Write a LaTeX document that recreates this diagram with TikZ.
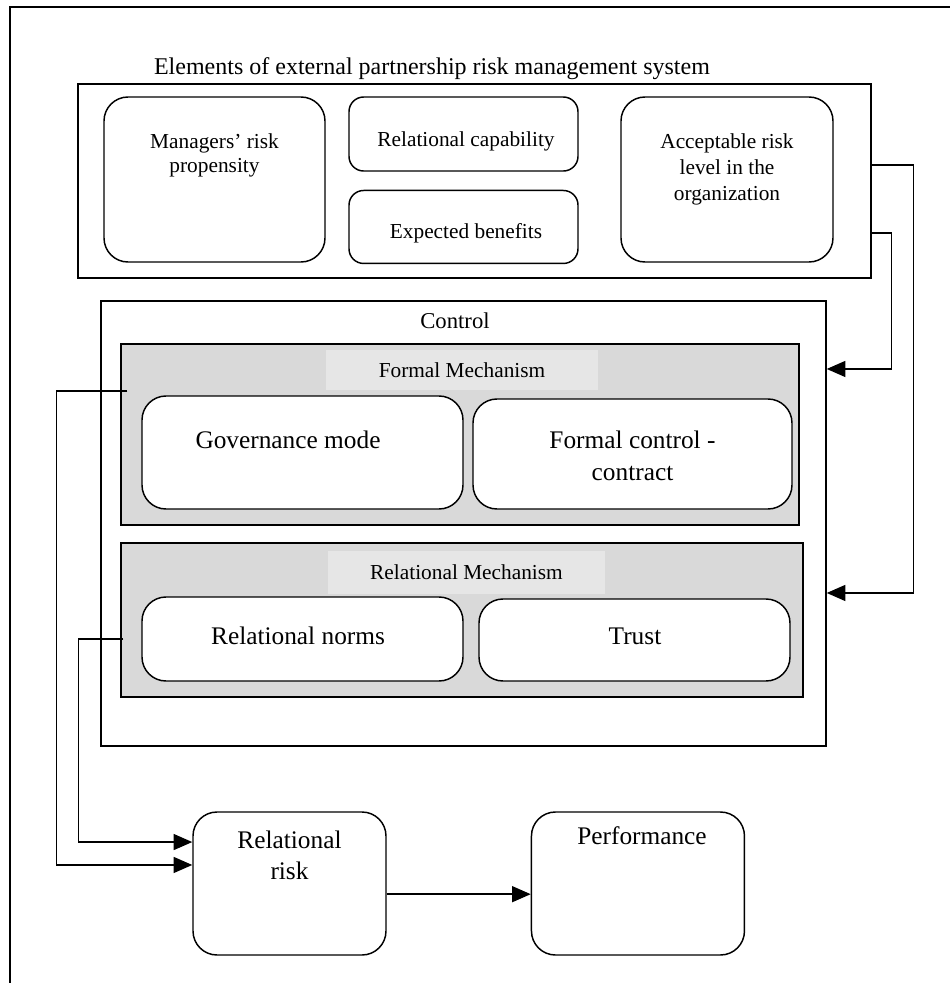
\documentclass[tikz,border=0pt]{standalone}
\usepackage{fontspec}
\setmainfont{Liberation Serif}
\usepackage{tikz}
\usetikzlibrary{positioning}
\usetikzlibrary{arrows.meta}
\definecolor{mechgray}{HTML}{D9D9D9}
\definecolor{labelgray}{HTML}{E6E6E6}
\tikzstyle{outer}=[draw,rectangle,line width=1.1pt,inner sep=0pt]
\tikzstyle{rbox}=[draw,rectangle,rounded corners=18pt,line width=1.1pt,fill=white,inner sep=0pt]
\tikzstyle{sbox}=[rbox,rounded corners=11pt]
\tikzstyle{mech}=[draw,rectangle,line width=1.1pt,fill=mechgray,inner sep=0pt]
\tikzstyle{mechlabel}=[rectangle,fill=labelgray,inner sep=0pt,font=\fontsize{16}{18}\selectfont]
\tikzstyle{txt}=[align=center,inner sep=0pt,font=\fontsize{16}{18}\selectfont]
\tikzstyle{bigtxt}=[align=center,inner sep=0pt,font=\fontsize{19}{24}\selectfont]

\begin{document}
\begin{tikzpicture}
	[x=0.75pt,y=-0.75pt,node distance=12pt]
	\tikzstyle{arrow}=[-{Triangle[length=14pt,width=12pt]},line width=1.1pt];
	\tikzstyle{wire}=[line width=1.1pt];
	\useasboundingbox (0,0) rectangle (950,983);
	\draw[wire] (10,983) -- (10,7) -- (950,7);
	% external elements
	\node (title) [txt,font=\fontsize{18}{20}\selectfont] at (432,69) {Elements of external partnership risk management system};
	\node (elem) [outer,minimum width=594.75pt,minimum height=145.5pt] at (474.5,181) {};
	\node (mgr) [rbox,minimum width=165.75pt,minimum height=123.75pt] at (214.5,179.5) {};
	\node (mgrtext) [txt,font=\fontsize{16}{18}\selectfont] at (214.5,155) {Managers’ risk\\propensity};
	\node (relcap) [sbox,minimum width=171.75pt,minimum height=55.5pt] at (463.5,134) {};
	\node (expben) [sbox,minimum width=171.75pt,minimum height=54.75pt,below=13.5pt of relcap] {};
	\node (relcaptext) [txt] at (466,141) {Relational capability};
	\node (expbentext) [txt] at (466,233) {Expected benefits};
	\node (accept) [rbox,minimum width=159pt,minimum height=123.75pt] at (727,179.5) {};
	\node (accepttext) [txt,font=\fontsize{16}{19.5}\selectfont] at (727,169) {Acceptable risk\\level in the\\organization};
	% control
	\node (control) [outer,minimum width=543.75pt,minimum height=333.75pt] at (463.5,523.5) {};
	\node (controltext) [bigtxt,font=\fontsize{17}{21}\selectfont] at (455,321) {Control};
	\node (formal) [mech,minimum width=508.5pt,minimum height=135.75pt] at (460,434.5) {};
	\node (formallabel) [mechlabel,minimum width=204pt,minimum height=30pt] at (462,370) {Formal Mechanism};
	\node (gov) [rbox,minimum width=240.75pt,minimum height=84.75pt] at (302.5,452.5) {};
	\node (govtext) [bigtxt] at (288,440) {Governance mode};
	\node (fcc) [rbox,minimum width=239.25pt,minimum height=82.5pt] at (632.5,454) {};
	\node (fcctext) [bigtxt] at (632.5,456) {Formal control -\\contract};
	\node (relmech) [mech,minimum width=511.5pt,minimum height=115.5pt] at (462,620) {};
	\node (relmechlabel) [mechlabel,minimum width=207.75pt,minimum height=32.25pt] at (466.5,572.5) {Relational Mechanism};
	\node (norms) [rbox,minimum width=240.75pt,minimum height=63pt] at (302.5,639) {};
	\node (normstext) [bigtxt] at (298,636) {Relational norms};
	\node (trust) [rbox,minimum width=233.25pt,minimum height=61.5pt] at (634.5,640) {};
	\node (trusttext) [bigtxt] at (635,636) {Trust};
	% outcomes
	\node (rr) [rbox,minimum width=144.75pt,minimum height=107.25pt] at (289.5,883.5) {};
	\node (rrtext) [bigtxt,font=\fontsize{19}{23}\selectfont] at (289.5,855) {Relational\\risk};
	\node (perf) [rbox,minimum width=159.75pt,minimum height=107.25pt,right=108pt of rr] {};
	\node (perftext) [bigtxt] at (642,836) {Performance};
	% connectors
	\draw[arrow] ([yshift=12pt]elem.east) -- ++(42,0) |- ([yshift=-52.1pt]control.east);
	\draw[arrow] ([yshift=-39pt]elem.east) -- ++(20,0) |- ([yshift=115.9pt]control.east);
	\draw[arrow] ([xshift=5.25pt,yshift=32.6pt]formal.west) -- ++(-71,0) |- ([yshift=13.9pt]rr.west);
	\draw[arrow] ([xshift=2.25pt,yshift=-14.25pt]relmech.west) -- ++(-45,0) |- ([yshift=31.1pt]rr.west);
	\draw[arrow] ([yshift=-8pt]rr.east) -- ([yshift=-8pt]perf.west);
\end{tikzpicture}
\end{document}
